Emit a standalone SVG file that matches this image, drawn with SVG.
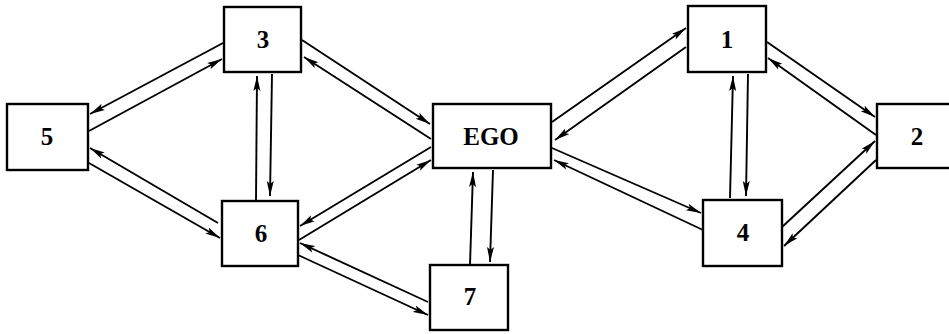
<svg xmlns="http://www.w3.org/2000/svg" width="949" height="334" viewBox="0 0 949 334">
<style>
.box{fill:#fff;stroke:#000;stroke-width:2.4}
.lbl{font-family:"Liberation Serif","Times New Roman",serif;font-weight:bold;font-size:25px;text-anchor:middle;fill:#000}
.c line{stroke:#000;stroke-width:1.9;marker-end:url(#ah)}
</style>
<defs>
<marker id="ah" markerUnits="userSpaceOnUse" markerWidth="17" markerHeight="9" refX="15" refY="4" orient="auto">
<path d="M0,0.5 L15,4 L0,7.5 L3,4 z" fill="#000"/>
</marker>
</defs>
<rect width="949" height="334" fill="#fff"/>
<g id="connectors" class="c">
<line x1="223" y1="43" x2="90" y2="114"/>
<line x1="89" y1="131" x2="222" y2="59"/>
<line x1="218" y1="223" x2="90" y2="148"/>
<line x1="89" y1="163" x2="220" y2="238"/>
<line x1="256" y1="200" x2="257" y2="76"/>
<line x1="272" y1="74" x2="270" y2="196"/>
<line x1="302" y1="40" x2="430" y2="124"/>
<line x1="431" y1="139" x2="304" y2="57"/>
<line x1="431" y1="147" x2="300" y2="226"/>
<line x1="299" y1="240" x2="431" y2="160"/>
<line x1="428" y1="302" x2="300" y2="243"/>
<line x1="298" y1="255" x2="428" y2="315"/>
<line x1="470" y1="265" x2="473" y2="172"/>
<line x1="493" y1="170" x2="490" y2="262"/>
<line x1="552" y1="122" x2="686" y2="28"/>
<line x1="686" y1="47" x2="555" y2="140"/>
<line x1="552" y1="148" x2="701" y2="213"/>
<line x1="703" y1="230" x2="554" y2="160"/>
<line x1="730" y1="198" x2="733" y2="76"/>
<line x1="748" y1="74" x2="746" y2="196"/>
<line x1="767" y1="42" x2="875" y2="117"/>
<line x1="876" y1="135" x2="768" y2="58"/>
<line x1="782" y1="227" x2="875" y2="141"/>
<line x1="876" y1="160" x2="784" y2="246"/>
</g>
<g id="n3"><rect class="box" x="224" y="7" width="77" height="65"/><text class="lbl" x="263" y="48">3</text></g>
<g id="n5"><rect class="box" x="7" y="104" width="81" height="66"/><text class="lbl" x="47" y="145">5</text></g>
<g id="n6"><rect class="box" x="222" y="201" width="76" height="65"/><text class="lbl" x="261" y="242">6</text></g>
<g id="nEGO"><rect class="box" x="433" y="104" width="118" height="64"/><text class="lbl" x="491" y="145">EGO</text></g>
<g id="n7"><rect class="box" x="430" y="265" width="78" height="65"/><text class="lbl" x="470" y="305">7</text></g>
<g id="n1"><rect class="box" x="688" y="6" width="78" height="66"/><text class="lbl" x="727" y="48">1</text></g>
<g id="n2"><rect class="box" x="877" y="104" width="80" height="64"/><text class="lbl" x="917" y="145">2</text></g>
<g id="n4"><rect class="box" x="703" y="200" width="79" height="66"/><text class="lbl" x="743" y="241">4</text></g>
</svg>
